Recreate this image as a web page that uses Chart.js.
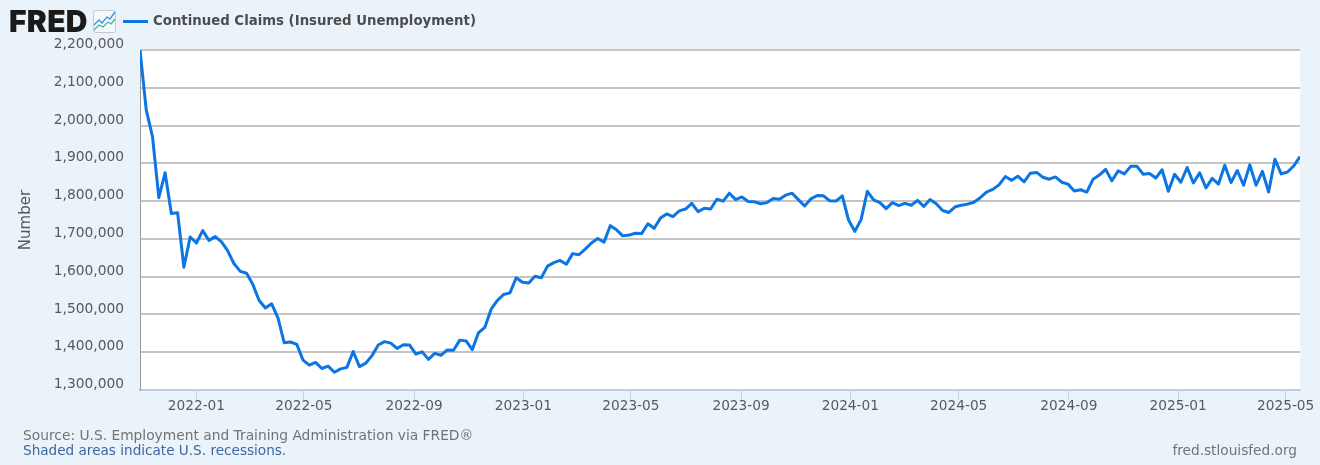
<!DOCTYPE html>
<html>
<head>
<meta charset="utf-8">
<title>Continued Claims (Insured Unemployment)</title>
<script src="https://cdn.jsdelivr.net/npm/chart.js@4"></script>
<style>
  html, body { margin: 0; padding: 0; background: #ebf3fa; }
  #wrap { position: relative; width: 1320px; height: 465px; overflow: hidden; font-family: "DejaVu Sans", sans-serif; }
  #chart { position: absolute; left: 0; top: 0; }
  .abs { position: absolute; white-space: nowrap; }
  #logo { left: 9px; top: 5px; font: 900 30px/32px Inter, "Liberation Sans", sans-serif; letter-spacing: 0.3px; color: #1a1a1a; }
  #icon { left: 93px; top: 10px; }
  #swatch { left: 123px; top: 20px; width: 25px; height: 3px; background: #0b75e3; }
  #legend { left: 153px; top: 13px; font-size: 13.3px; line-height: 16px; font-weight: bold; color: #4d4d4d; }
  #source { left: 23px; top: 427px; font-size: 13.8px; line-height: 16px; color: #737373; }
  #shaded { left: 23px; top: 442px; font-size: 13.6px; line-height: 16px; color: #3d66a0; }
  #site { right: 23px; top: 442px; font-size: 13.7px; line-height: 16px; color: #737373; }
</style>
</head>
<body>
<div id="wrap">
  <canvas id="chart" width="1320" height="465"></canvas>
  <div class="abs" id="logo">FRED</div>
  <svg class="abs" id="icon" width="23" height="23" viewBox="0 0 23 23">
    <rect x="0.5" y="0.5" width="22" height="22" rx="2" fill="#f5f8fb" stroke="#c8c8c8"/>
    <polyline points="1,15 6,10 9,13 14,7 17,9 22,2" fill="none" stroke="#3f8fe0" stroke-width="1.3"/>
    <polyline points="1,20 6,15 10,17 15,12 18,14 22,9" fill="none" stroke="#45b59a" stroke-width="1.3"/>
  </svg>
  <div class="abs" id="swatch"></div>
  <div class="abs" id="legend">Continued Claims (Insured Unemployment)</div>
  <div class="abs" id="source">Source: U.S. Employment and Training Administration via FRED®</div>
  <div class="abs" id="shaded">Shaded areas indicate U.S. recessions.</div>
  <div class="abs" id="site">fred.stlouisfed.org</div>
</div>
<script>
const weekEnding = [
  '2021-10-30','2021-11-06','2021-11-13','2021-11-20','2021-11-27','2021-12-04','2021-12-11','2021-12-18','2021-12-25',
  '2022-01-01','2022-01-08','2022-01-15','2022-01-22','2022-01-29','2022-02-05','2022-02-12','2022-02-19','2022-02-26',
  '2022-03-05','2022-03-12','2022-03-19','2022-03-26','2022-04-02','2022-04-09','2022-04-16','2022-04-23','2022-04-30',
  '2022-05-07','2022-05-14','2022-05-21','2022-05-28','2022-06-04','2022-06-11','2022-06-18','2022-06-25',
  '2022-07-02','2022-07-09','2022-07-16','2022-07-23','2022-07-30','2022-08-06','2022-08-13','2022-08-20','2022-08-27',
  '2022-09-03','2022-09-10','2022-09-17','2022-09-24','2022-10-01','2022-10-08','2022-10-15','2022-10-22','2022-10-29',
  '2022-11-05','2022-11-12','2022-11-19','2022-11-26','2022-12-03','2022-12-10','2022-12-17','2022-12-24','2022-12-31',
  '2023-01-07','2023-01-14','2023-01-21','2023-01-28','2023-02-04','2023-02-11','2023-02-18','2023-02-25',
  '2023-03-04','2023-03-11','2023-03-18','2023-03-25','2023-04-01','2023-04-08','2023-04-15','2023-04-22','2023-04-29',
  '2023-05-06','2023-05-13','2023-05-20','2023-05-27','2023-06-03','2023-06-10','2023-06-17','2023-06-24',
  '2023-07-01','2023-07-08','2023-07-15','2023-07-22','2023-07-29','2023-08-05','2023-08-12','2023-08-19','2023-08-26',
  '2023-09-02','2023-09-09','2023-09-16','2023-09-23','2023-09-30','2023-10-07','2023-10-14','2023-10-21','2023-10-28',
  '2023-11-04','2023-11-11','2023-11-18','2023-11-25','2023-12-02','2023-12-09','2023-12-16','2023-12-23','2023-12-30',
  '2024-01-06','2024-01-13','2024-01-20','2024-01-27','2024-02-03','2024-02-10','2024-02-17','2024-02-24',
  '2024-03-02','2024-03-09','2024-03-16','2024-03-23','2024-03-30','2024-04-06','2024-04-13','2024-04-20','2024-04-27',
  '2024-05-04','2024-05-11','2024-05-18','2024-05-25','2024-06-01','2024-06-08','2024-06-15','2024-06-22','2024-06-29',
  '2024-07-06','2024-07-13','2024-07-20','2024-07-27','2024-08-03','2024-08-10','2024-08-17','2024-08-24','2024-08-31',
  '2024-09-07','2024-09-14','2024-09-21','2024-09-28','2024-10-05','2024-10-12','2024-10-19','2024-10-26',
  '2024-11-02','2024-11-09','2024-11-16','2024-11-23','2024-11-30','2024-12-07','2024-12-14','2024-12-21','2024-12-28',
  '2025-01-04','2025-01-11','2025-01-18','2025-01-25','2025-02-01','2025-02-08','2025-02-15','2025-02-22',
  '2025-03-01','2025-03-08','2025-03-15','2025-03-22','2025-03-29','2025-04-05','2025-04-12','2025-04-19','2025-04-26',
  '2025-05-03','2025-05-10','2025-05-17'
];

const claims = [
  2200000,2041000,1970000,1809000,1875000,1767000,1769000,1625000,1705000,1689000,
  1722000,1696000,1706000,1692000,1668000,1634000,1614000,1609000,1579000,1537000,
  1517000,1528000,1491000,1425000,1427000,1421000,1379000,1366000,1373000,1357000,
  1363000,1347000,1356000,1360000,1402000,1362000,1371000,1391000,1419000,1428000,
  1424000,1410000,1420000,1419000,1395000,1401000,1381000,1397000,1392000,1406000,
  1405000,1432000,1430000,1407000,1452000,1466000,1514000,1537000,1553000,1557000,
  1597000,1585000,1583000,1601000,1597000,1628000,1637000,1643000,1633000,1661000,
  1658000,1673000,1689000,1701000,1691000,1735000,1724000,1708000,1710000,1715000,
  1714000,1740000,1728000,1755000,1766000,1759000,1774000,1779000,1794000,1772000,
  1781000,1779000,1805000,1800000,1821000,1804000,1811000,1799000,1798000,1793000,
  1796000,1807000,1805000,1816000,1821000,1804000,1787000,1806000,1815000,1814000,
  1801000,1800000,1814000,1750000,1720000,1751000,1826000,1803000,1796000,1780000,
  1796000,1788000,1794000,1789000,1802000,1786000,1804000,1793000,1775000,1770000,
  1785000,1789000,1792000,1797000,1809000,1824000,1831000,1843000,1865000,1855000,
  1866000,1851000,1874000,1876000,1863000,1858000,1864000,1850000,1845000,1827000,
  1830000,1824000,1858000,1869000,1884000,1854000,1880000,1872000,1892000,1892000,
  1871000,1873000,1861000,1883000,1826000,1871000,1850000,1889000,1848000,1875000,
  1835000,1860000,1845000,1895000,1849000,1881000,1842000,1896000,1842000,1879000,
  1824000,1911000,1872000,1877000,1893000,1918000
];

const monthTicks = ['2022-01','2022-05','2022-09','2023-01','2023-05','2023-09','2024-01','2024-05','2024-09','2025-01','2025-05'];
const seriesName = 'Continued Claims (Insured Unemployment)';

const fontFamily = '"DejaVu Sans", sans-serif';
const toTime = s => Date.parse(s + 'T00:00:00Z');

new Chart(document.getElementById('chart'), {
  type: 'line',
  data: {
    datasets: [{
      label: seriesName,
      data: weekEnding.map((d, i) => ({ x: toTime(d), y: claims[i] })),
      borderColor: '#0b75e3',
      borderWidth: 3,
      borderJoinStyle: 'round',
      pointRadius: 0,
      tension: 0
    }]
  },
  options: {
    responsive: false,
    animation: false,
    layout: { padding: { top: 50, right: 20, left: 0, bottom: 0 } },
    plugins: {
      legend: { display: false },
      tooltip: { enabled: false }
    },
    scales: {
      x: {
        type: 'linear',
        min: toTime(weekEnding[0]),
        max: toTime(weekEnding[weekEnding.length - 1]),
        afterBuildTicks(scale) {
          scale.ticks = monthTicks.map(m => ({ value: toTime(m + '-01') }));
        },
        afterFit(scale) { scale.height = 75; },
        border: { color: '#c0cfe0', width: 2 },
        grid: { drawOnChartArea: false, drawTicks: true, tickLength: 10, color: '#c0d4ea', lineWidth: 1 },
        ticks: {
          autoSkip: false,
          maxRotation: 0,
          padding: -2,
          color: '#595959',
          font: { family: fontFamily, size: 13.7 },
          callback: v => new Date(v).toISOString().slice(0, 7)
        }
      },
      y: {
        min: 1300000,
        max: 2200000,
        afterBuildTicks(scale) {
          const t = [];
          for (let v = 1300000; v <= 2200000; v += 100000) t.push({ value: v });
          scale.ticks = t;
        },
        afterFit(scale) { scale.width = 140; },
        title: {
          display: true,
          text: 'Number',
          color: '#595959',
          font: { family: fontFamily, size: 15 },
          padding: { top: 17, bottom: 0 }
        },
        border: { color: '#999999', width: 1 },
        grid: { drawTicks: false, color: '#c4c4c4', lineWidth: 2 },
        ticks: {
          autoSkip: false,
          padding: 16,
          labelOffset: -5.5,
          color: '#595959',
          font: { family: fontFamily, size: 13.8 },
          callback: v => v.toLocaleString('en-US')
        }
      }
    }
  },
  plugins: [{
    id: 'chartBg',
    beforeDraw(chart) {
      const { ctx, chartArea: a } = chart;
      ctx.save();
      ctx.fillStyle = '#ffffff';
      ctx.fillRect(a.left, a.top, a.right - a.left, a.bottom - a.top);
      ctx.restore();
    }
  }]
});
</script>
</body>
</html>
